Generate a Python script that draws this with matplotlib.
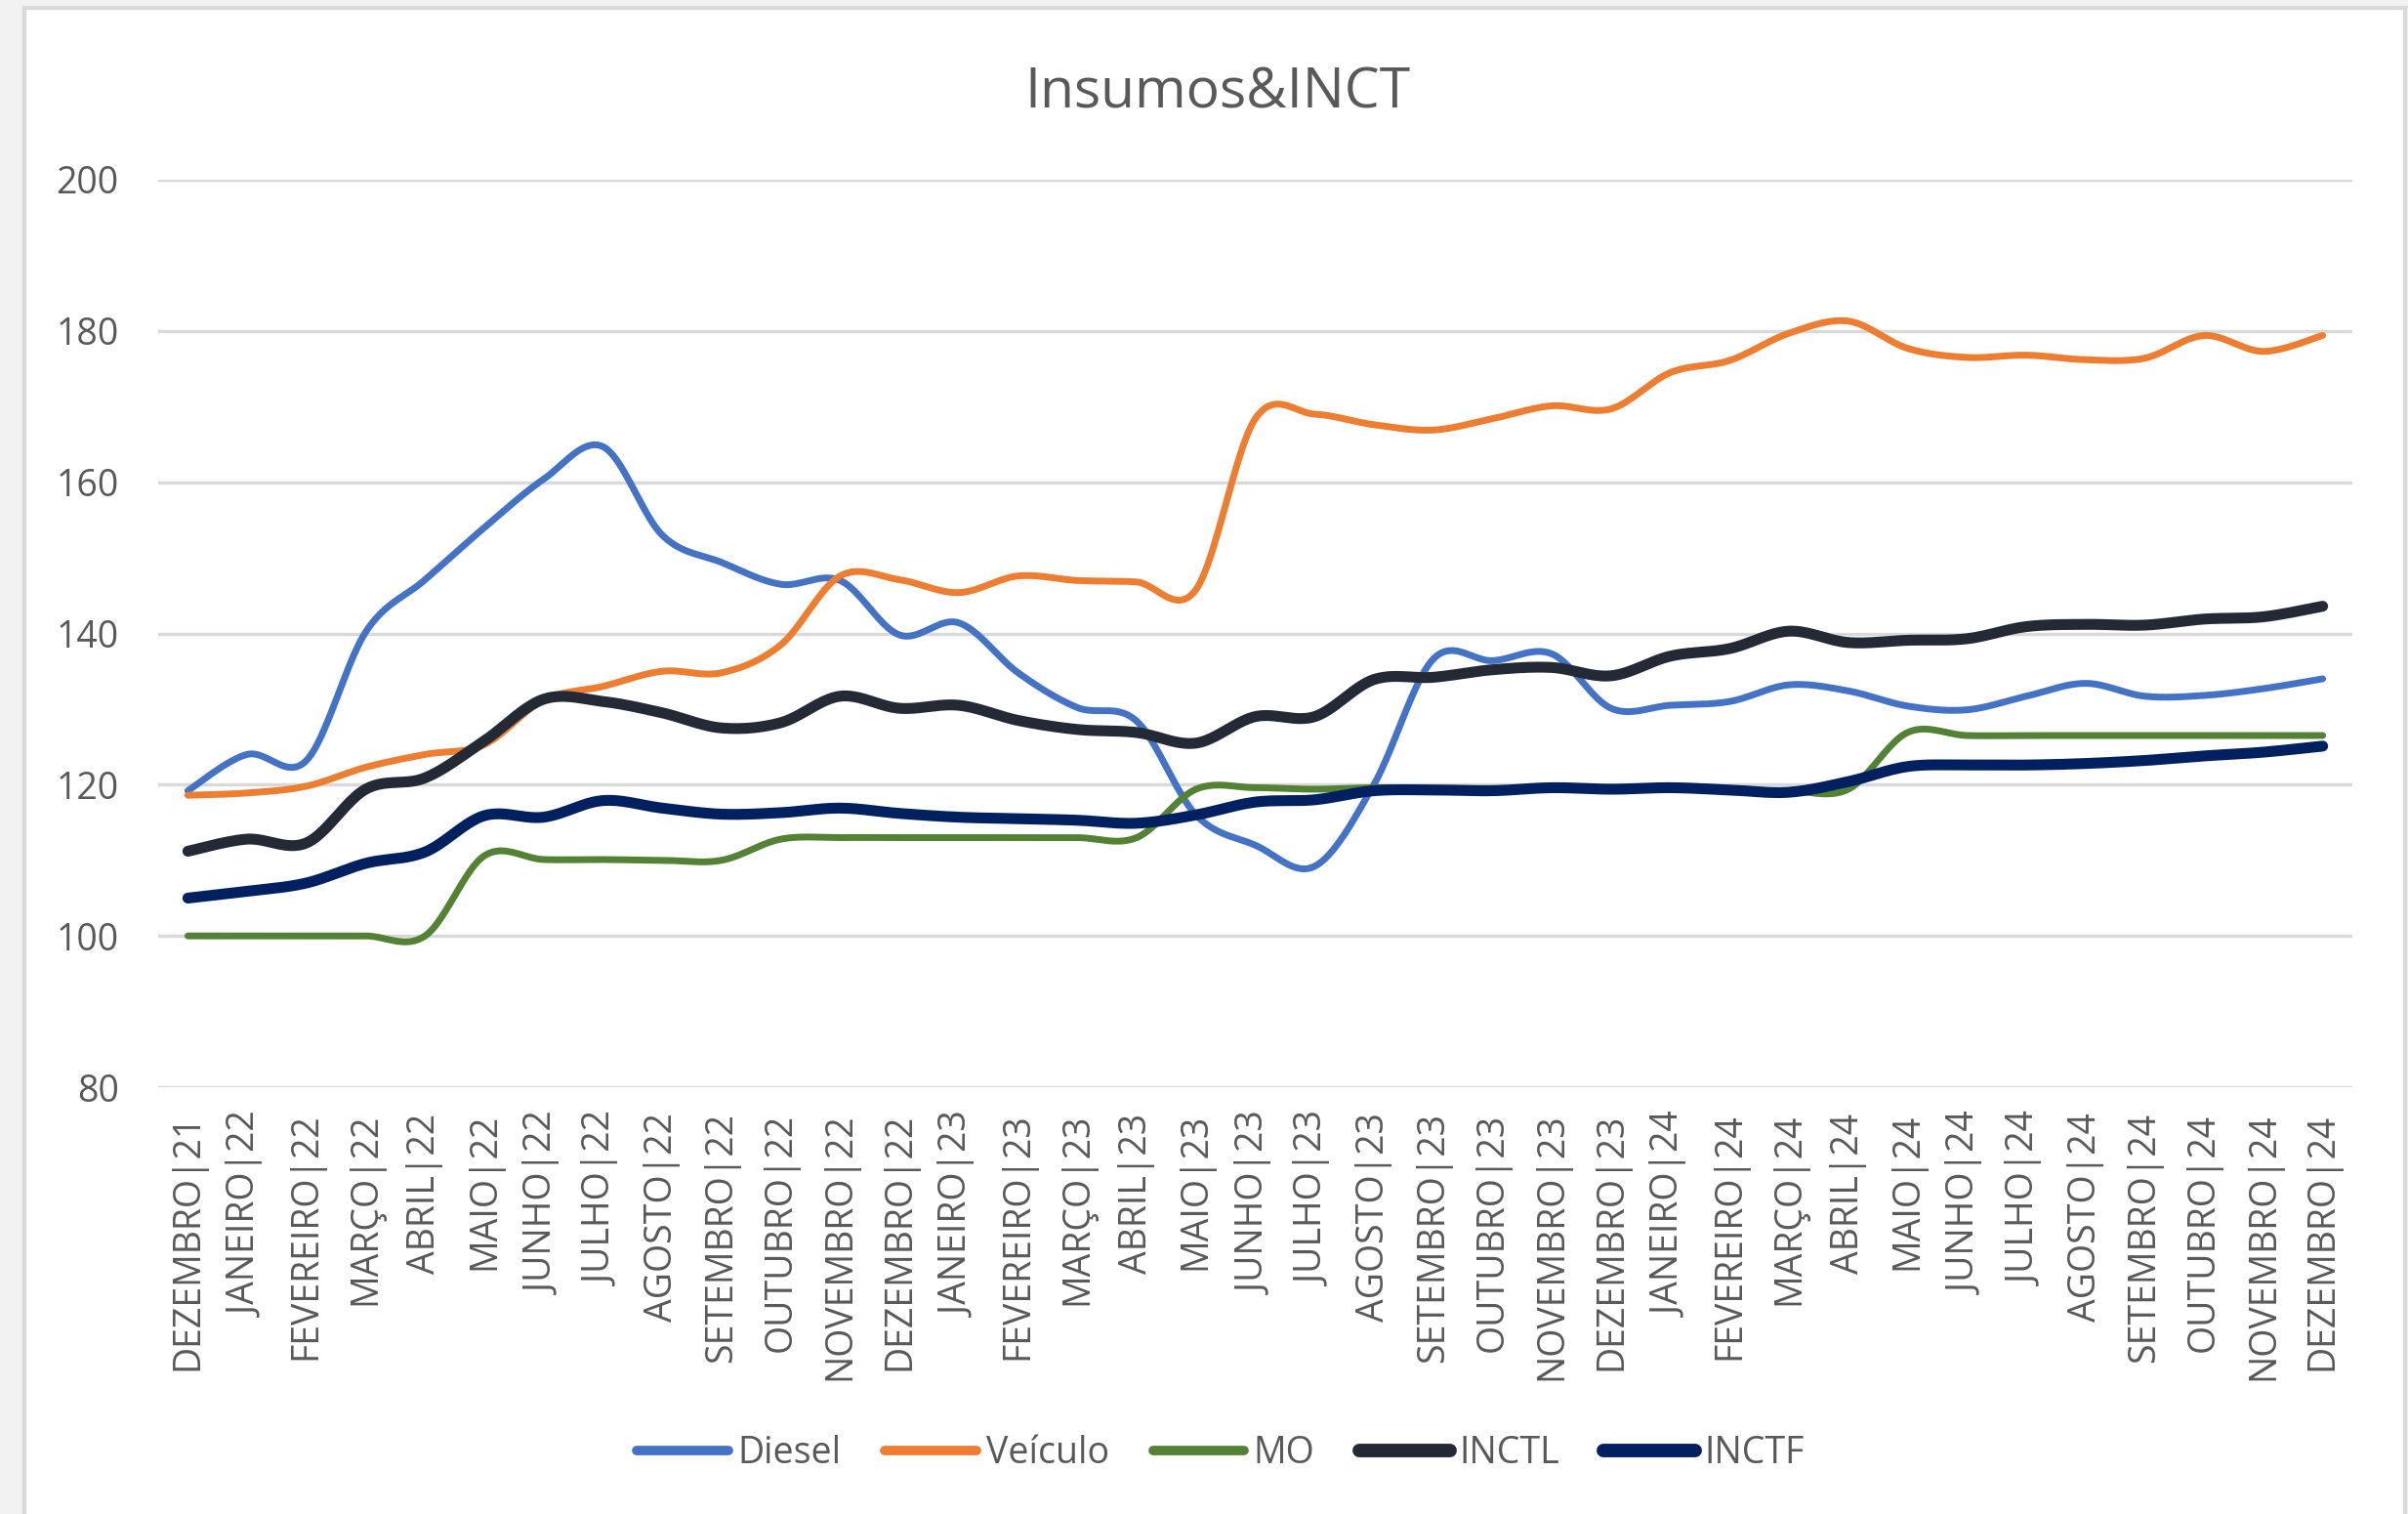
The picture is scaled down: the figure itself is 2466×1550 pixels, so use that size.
import numpy as np
import matplotlib
matplotlib.use("Agg")
import matplotlib.pyplot as plt
from matplotlib.patches import Rectangle

plt.rcParams['font.family'] = ['Open Sans', 'DejaVu Sans']

# categorias (meses)
meses = ['JANEIRO', 'FEVEREIRO', 'MARÇO', 'ABRIL', 'MAIO', 'JUNHO', 'JULHO',
         'AGOSTO', 'SETEMBRO', 'OUTUBRO', 'NOVEMBRO', 'DEZEMBRO']
rotulos = ['DEZEMBRO|21'] + [f'{m}|{a}' for a in ('22', '23', '24') for m in meses]

# series
diesel = [119.2, 124.0, 123.2, 140.2, 147.1, 154.0, 160.4, 164.7, 153.0, 149.4,
          146.5, 147.0, 139.8, 141.4, 134.8, 130.2, 128.4, 116.0, 112.0, 109.2,
          120.0, 136.6, 136.4, 137.3, 130.1, 130.5, 131.0, 133.2, 132.4, 130.4,
          129.9, 131.7, 133.4, 131.7, 131.8, 132.7, 134.0]
veiculo = [118.6, 118.9, 119.8, 122.3, 124.0, 125.3, 131.2, 133.0, 135.0, 134.8,
           138.5, 147.6, 147.1, 145.4, 147.6, 147.0, 146.8, 145.8, 168.4, 169.0,
           167.6, 166.9, 168.4, 170.1, 169.7, 174.5, 176.1, 179.7, 181.3, 177.7,
           176.5, 176.8, 176.2, 176.4, 179.4, 177.3, 179.4]
mo = [100.0, 100.0, 100.0, 100.0, 100.0, 110.6, 110.1, 110.1, 110.0, 110.0,
      112.8, 113.0, 113.0, 113.0, 113.0, 113.0, 113.0, 119.4, 119.6, 119.4,
      119.6, 119.5, 119.5, 119.5, 119.4, 119.5, 119.3, 119.2, 119.4, 126.9,
      126.5, 126.5, 126.5, 126.5, 126.5, 126.5, 126.5]
inctl = [111.2, 112.8, 112.3, 119.4, 120.9, 125.8, 131.3, 131.0, 129.5, 127.5,
         128.2, 131.7, 130.1, 130.5, 128.5, 127.3, 126.9, 125.5, 129.0, 129.0,
         133.9, 134.2, 135.2, 135.5, 134.4, 137.0, 138.0, 140.3, 138.8, 139.1,
         139.3, 140.9, 141.2, 141.1, 141.9, 142.2, 143.6]
inctf = [105.0, 105.9, 107.0, 109.6, 111.1, 115.9, 115.7, 117.9, 116.9, 116.1,
         116.3, 116.9, 116.2, 115.7, 115.5, 115.3, 114.9, 116.0, 117.7, 118.0,
         119.2, 119.3, 119.2, 119.6, 119.4, 119.6, 119.3, 119.0, 120.4, 122.4,
         122.6, 122.6, 122.8, 123.2, 123.8, 124.3, 125.1]

series = ['Diesel', 'Veículo', 'MO', 'INCTL', 'INCTF']
cores = ['#4472C4', '#ED7D31', '#548235', '#232A35', '#002060']
larguras = [5.0, 5.0, 5.0, 8.0, 8.0]


def suave(y, n=25):
    # linha suavizada estilo Excel (bezier / catmull-rom)
    y = np.asarray(y, float)
    x = np.arange(len(y), dtype=float)
    py = np.concatenate([[y[0]], y, [y[-1]]])
    px = np.concatenate([[x[0]], x, [x[-1]]])
    t = np.linspace(0, 1, n)
    xs, ys = [], []
    for i in range(len(y) - 1):
        for p, out in ((px, xs), (py, ys)):
            p0, p1, p2, p3 = p[i], p[i + 1], p[i + 2], p[i + 3]
            c1 = p1 + (p2 - p0) / 6
            c2 = p2 - (p3 - p1) / 6
            b = ((1 - t) ** 3 * p1 + 3 * (1 - t) ** 2 * t * c1
                 + 3 * (1 - t) * t ** 2 * c2 + t ** 3 * p2)
            out.append(b if i == 0 else b[1:])
    return np.concatenate(xs), np.concatenate(ys)


W, H = 2466, 1550
fig = plt.figure(figsize=(W / 100, H / 100), dpi=100, facecolor='#F2F2F2')
fundo = Rectangle((25 / W, -0.01), (2463 - 25) / W, 1.01 - 8 / H,
                  transform=fig.transFigure, facecolor='white',
                  edgecolor='#D9D9D9', linewidth=3, zorder=-10)
fig.patches.append(fundo)

ax = fig.add_axes([162 / W, 1 - 1113 / H, (2409 - 162) / W, (1113 - 184) / H])
ax.set_facecolor('none')
ax.set_zorder(1)

for nome, dados, cor, lw in zip(series, [diesel, veiculo, mo, inctl, inctf], cores, larguras):
    xs, ys = suave(dados)
    ax.plot(xs, ys, color=cor, lw=lw, label=nome, solid_capstyle='round',
            solid_joinstyle='round')

ax.set_xlim(-0.5, len(rotulos) - 0.5)
ax.set_ylim(80, 200)
ax.set_yticks(np.arange(80, 201, 20))
ax.set_xticks(np.arange(len(rotulos)))
ax.set_xticklabels(rotulos, rotation=90, va='top', ha='center')
ax.tick_params(axis='both', length=0, labelsize=27, labelcolor='#595959')
ax.tick_params(axis='y', pad=29)
ax.tick_params(axis='x', pad=19)
ax.grid(axis='y', color='#D9D9D9', lw=2.4)
ax.set_axisbelow(True)
for s in ax.spines.values():
    s.set_visible(False)

fig.text(1247 / W, 1 - 96 / H, 'Insumos&INCT', ha='center', va='center',
         fontsize=41, color='#595959')

leg = fig.legend(loc='center', bbox_to_anchor=(1250 / W, 1 - 1488 / H), ncol=5,
                 frameon=False, fontsize=27, handlelength=2.5, handletextpad=0.25,
                 columnspacing=1.2, labelcolor='#595959')
for linha, lw in zip(leg.get_lines(), larguras):
    linha.set_linewidth(lw + 2)
    linha.set_solid_capstyle('round')

fig.savefig('out.png', dpi=100, facecolor=fig.get_facecolor())
